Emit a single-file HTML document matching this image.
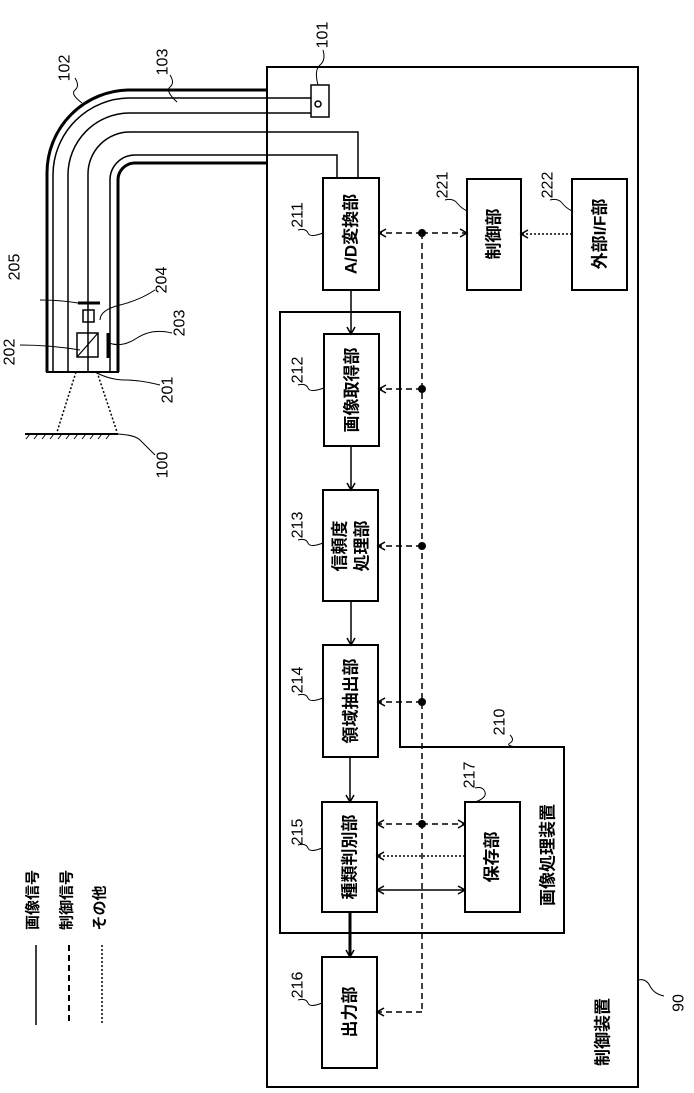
<!DOCTYPE html>
<html><head><meta charset="utf-8"><style>
html,body{margin:0;padding:0;background:#fff;}
svg{display:block;}
text{font-family:"Liberation Sans","Noto Sans CJK JP",sans-serif;fill:#000;}
</style></head><body>
<svg width="694" height="1093" viewBox="0 0 694 1093" xmlns="http://www.w3.org/2000/svg">
<defs>
<marker id="a" markerWidth="10" markerHeight="10" refX="8" refY="5" orient="auto" markerUnits="userSpaceOnUse">
<path d="M1,1 L8,5 L1,9" fill="none" stroke="#000" stroke-width="1.5"/>
</marker>
<marker id="as" markerWidth="10" markerHeight="10" refX="2" refY="5" orient="auto" markerUnits="userSpaceOnUse">
<path d="M9,1 L2,5 L9,9" fill="none" stroke="#000" stroke-width="1.5"/>
</marker>
</defs>
<g fill="none" stroke="#000">
<rect x="267" y="67" width="371" height="1020" stroke-width="2"/>
<path d="M280,312 H400 V747 H564 V933 H280 Z" stroke-width="2"/>
<path d="M267,90 H130 A83,83 0 0 0 47,173 V372" stroke-width="3"/>
<path d="M311,98 H130 A77,77 0 0 0 53,175 V372" stroke-width="1.5"/>
<path d="M311,113 H130 A62,62 0 0 0 68,175 V372" stroke-width="1.5"/>
<path d="M358,178 V132 H130 A42,42 0 0 0 88,174 V372" stroke-width="1.5"/>
<path d="M337,178 V155 H135 A25,25 0 0 0 110,180 V372" stroke-width="1.5"/>
<path d="M267,163 H135 A17,17 0 0 0 118,180 V372" stroke-width="3"/>
<path d="M46,372 H119" stroke-width="2"/>
<rect x="311" y="85" width="18" height="32" stroke-width="1.5"/>
<circle cx="318" cy="104" r="3" stroke-width="1.5"/>
<rect x="77" y="333" width="21" height="24" stroke-width="1.5"/>
<path d="M77,357 L98,333" stroke-width="1.2"/>
<path d="M78,303 H100" stroke-width="3"/>
<rect x="83" y="310" width="11" height="12" stroke-width="1.5"/>
<path d="M108,333 V358" stroke-width="3"/>
<path d="M76,372 L57,432 M97,372 L117,432" stroke-width="1.5" stroke-dasharray="2,2"/>
<path d="M25,434 H118" stroke-width="2"/>
<path d="M30,434 l-4,5 M38,434 l-4,5 M46,434 l-4,5 M54,434 l-4,5 M62,434 l-4,5 M70,434 l-4,5 M78,434 l-4,5 M86,434 l-4,5 M94,434 l-4,5 M102,434 l-4,5 M110,434 l-4,5" stroke-width="1"/>
<rect x="323" y="178" width="56" height="112" stroke-width="2"/>
<rect x="467" y="179" width="54" height="111" stroke-width="2"/>
<rect x="572" y="179" width="55" height="111" stroke-width="2"/>
<rect x="324" y="334" width="55" height="112" stroke-width="2"/>
<rect x="323" y="490" width="55" height="111" stroke-width="2"/>
<rect x="323" y="645" width="55" height="112" stroke-width="2"/>
<rect x="322" y="802" width="55" height="110" stroke-width="2"/>
<rect x="465" y="802" width="55" height="110" stroke-width="2"/>
<rect x="322" y="957" width="55" height="111" stroke-width="2"/>
<path d="M351,290 V334" stroke-width="1.5" marker-end="url(#a)"/>
<path d="M351,446 V490" stroke-width="1.5" marker-end="url(#a)"/>
<path d="M351,601 V645" stroke-width="1.5" marker-end="url(#a)"/>
<path d="M350,757 V802" stroke-width="1.5" marker-end="url(#a)"/>
<path d="M350,912 V957" stroke-width="3" />
<path d="M350,935 V957" stroke-width="1.5" marker-end="url(#a)"/>
<path d="M377,890 H465" stroke-width="1.5" marker-start="url(#as)" marker-end="url(#a)"/>
<g stroke-dasharray="6,4" stroke-width="1.5">
<path d="M422,233 V1012"/>
<path d="M422,233 H379" marker-end="url(#a)"/>
<path d="M422,233 H467" marker-end="url(#a)"/>
<path d="M422,389 H379" marker-end="url(#a)"/>
<path d="M422,546 H378" marker-end="url(#a)"/>
<path d="M422,702 H378" marker-end="url(#a)"/>
<path d="M422,824 H377" marker-end="url(#a)"/>
<path d="M422,824 H465" marker-end="url(#a)"/>
<path d="M422,1012 H377" marker-end="url(#a)"/>
</g>
<g stroke-dasharray="2,2" stroke-width="1.5">
<path d="M572,234 H521" marker-end="url(#a)"/>
<path d="M465,856 H377" marker-end="url(#a)"/>
</g>
<path d="M36,945 V1025" stroke-width="1.5"/>
<path d="M69,945 V1025" stroke-width="2" stroke-dasharray="6,4"/>
<path d="M102,945 V1025" stroke-width="1.5" stroke-dasharray="2,2"/>
<g stroke-width="1">
<path d="M298,230 q8,-2 10,3 t15,0"/>
<path d="M298,385 q8,-2 10,3 t16,0"/>
<path d="M298,540 q8,-2 10,3 t15,0"/>
<path d="M298,695 q8,-2 10,3 t15,0"/>
<path d="M298,845 q8,-2 10,3 t14,0"/>
<path d="M298,1000 q8,-2 10,3 t14,0"/>
<path d="M445,200 q8,-2 12,3 t10,8"/>
<path d="M550,200 q8,-2 12,3 t10,8"/>
<path d="M475,788 q8,-2 10,4 t-10,10"/>
<path d="M510,735 q5,5 0,8 t8,4"/>
<path d="M638,980 q8,-2 12,6 t14,10"/>
<path d="M323,50 q3,10 -3,15 t-2,20"/>
<path d="M75,78 q5,8 0,12 t7,13"/>
<path d="M170,75 q5,8 0,12 t7,15"/>
<path d="M40,300 q20,0 38,3"/>
<path d="M155,290 q-15,10 -35,15 t-20,15"/>
<path d="M172,333 q-20,-5 -35,5 t-28,5"/>
<path d="M20,345 q30,0 60,5"/>
<path d="M160,385 q-20,-5 -35,-5 t-30,-8"/>
<path d="M155,455 q-10,-10 -15,-15 t-22,-6"/>
</g>
</g>
<g fill="#000">
<circle cx="422" cy="233" r="4"/>
<circle cx="422" cy="389" r="4"/>
<circle cx="422" cy="546" r="4"/>
<circle cx="422" cy="702" r="4"/>
<circle cx="422" cy="824" r="4"/>
</g>
<g font-size="17" text-anchor="middle" dominant-baseline="central" font-weight="bold">
<text transform="translate(351,234) rotate(-90)">A/D変換部</text>
<text transform="translate(494,234) rotate(-90)">制御部</text>
<text transform="translate(600,234) rotate(-90)">外部I/F部</text>
<text transform="translate(352,390) rotate(-90)">画像取得部</text>
<text transform="translate(340,546) rotate(-90)">信頼度</text>
<text transform="translate(362,546) rotate(-90)">処理部</text>
<text transform="translate(351,701) rotate(-90)">領域抽出部</text>
<text transform="translate(350,857) rotate(-90)">種類判別部</text>
<text transform="translate(492,857) rotate(-90)">保存部</text>
<text transform="translate(350,1012) rotate(-90)">出力部</text>
<text transform="translate(548,855) rotate(-90)">画像処理装置</text>
<text transform="translate(603,1032) rotate(-90)">制御装置</text>
<text transform="translate(33,900) rotate(-90)" font-size="15">画像信号</text>
<text transform="translate(67,900) rotate(-90)" font-size="15">制御信号</text>
<text transform="translate(100,908) rotate(-90)" font-size="15">その他</text>
</g>
<g font-size="16" text-anchor="middle" dominant-baseline="central">
<text transform="translate(298,215) rotate(-90)">211</text>
<text transform="translate(298,370) rotate(-90)">212</text>
<text transform="translate(298,525) rotate(-90)">213</text>
<text transform="translate(298,680) rotate(-90)">214</text>
<text transform="translate(298,832) rotate(-90)">215</text>
<text transform="translate(298,985) rotate(-90)">216</text>
<text transform="translate(470,775) rotate(-90)">217</text>
<text transform="translate(500,722) rotate(-90)">210</text>
<text transform="translate(443,185) rotate(-90)">221</text>
<text transform="translate(548,185) rotate(-90)">222</text>
<text transform="translate(679,1003) rotate(-90)">90</text>
<text transform="translate(323,35) rotate(-90)">101</text>
<text transform="translate(65,68) rotate(-90)">102</text>
<text transform="translate(163,62) rotate(-90)">103</text>
<text transform="translate(15,267) rotate(-90)">205</text>
<text transform="translate(162,280) rotate(-90)">204</text>
<text transform="translate(180,323) rotate(-90)">203</text>
<text transform="translate(10,352) rotate(-90)">202</text>
<text transform="translate(168,390) rotate(-90)">201</text>
<text transform="translate(163,465) rotate(-90)">100</text>
</g>
</svg>
</body></html>
